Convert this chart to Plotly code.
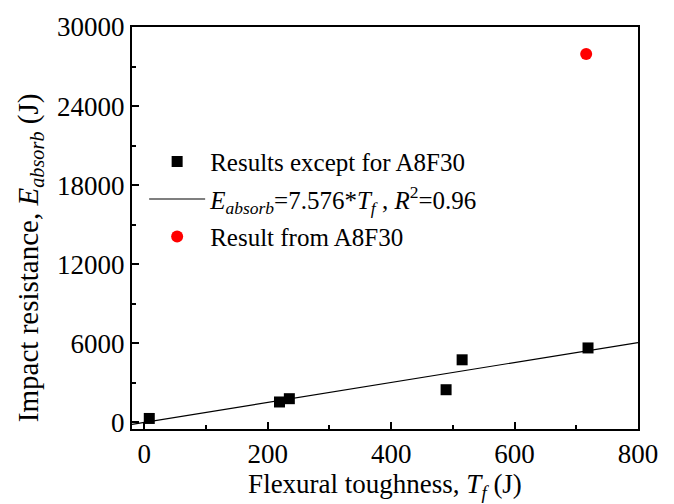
import plotly.graph_objects as go

# Data
tf_except = [8, 219, 235, 489, 515, 719]
e_except = [300, 1550, 1800, 2480, 4750, 5650]
tf_a8f30 = [716]
e_a8f30 = [27950]
fit_x = [-20, 800]
slope = 7.576
fit_y = [slope * v for v in fit_x]

font_family = "Liberation Serif"

fig = go.Figure()
fig.add_trace(go.Scatter(
    x=tf_except, y=e_except, mode="markers",
    marker=dict(symbol="square", size=11, color="black"),
    legendgroup="a",
    name="Results except for A8F30"))
fig.add_trace(go.Scatter(
    x=fit_x, y=fit_y, mode="lines",
    line=dict(color="black", width=1.2),
    legendgroup="b",
    name="<i>E</i><sub><i>absorb</i></sub>=7.576*<i>T</i><sub><i>f</i></sub> , <i>R</i><sup>2</sup>=0.96"))
fig.add_trace(go.Scatter(
    x=tf_a8f30, y=e_a8f30, mode="markers",
    marker=dict(symbol="circle", size=12, color="#ff0000"),
    legendgroup="c",
    name="Result from A8F30"))

axis_common = dict(
    showline=True, linecolor="black", linewidth=2, mirror=True,
    ticks="inside", ticklen=7, tickwidth=1.5, tickcolor="black",
    showgrid=False, zeroline=False, tickformat="d",
    tickfont=dict(family=font_family, size=27, color="black"),
)

fig.update_xaxes(
    range=[-20, 800], tickvals=[0, 200, 400, 600, 800],
    minor=dict(ticks="inside", ticklen=4, tickwidth=1.5, tickcolor="black", dtick=100, tick0=0, showgrid=False),
    title=dict(text="Flexural toughness, <i>T</i><sub><i>f</i></sub> (J)",
               font=dict(family=font_family, size=27, color="black"), standoff=4),
    **axis_common)
fig.update_yaxes(
    range=[-500, 30000], tickvals=[0, 6000, 12000, 18000, 24000, 30000],
    minor=dict(ticks="inside", ticklen=4, tickwidth=1.5, tickcolor="black", dtick=3000, tick0=0, showgrid=False),
    **axis_common)

fig.add_annotation(
    text="Impact resistance, <i>E</i><sub><i>absorb</i></sub> (J)",
    xref="paper", yref="paper", x=-0.2016, y=0.4275,
    xanchor="center", yanchor="middle", textangle=-90, showarrow=False,
    font=dict(family=font_family, size=29, color="black"))

fig.update_layout(
    width=674, height=504,
    margin=dict(l=132, r=36, t=23, b=74),
    plot_bgcolor="white", paper_bgcolor="white",
    showlegend=True,
    legend=dict(x=0.024, y=0.722, xanchor="left", yanchor="top",
                bgcolor="rgba(0,0,0,0)", itemwidth=56,
                traceorder="grouped", tracegroupgap=2,
                font=dict(family=font_family, size=25, color="black")),
)

fig.write_html("out.html")
